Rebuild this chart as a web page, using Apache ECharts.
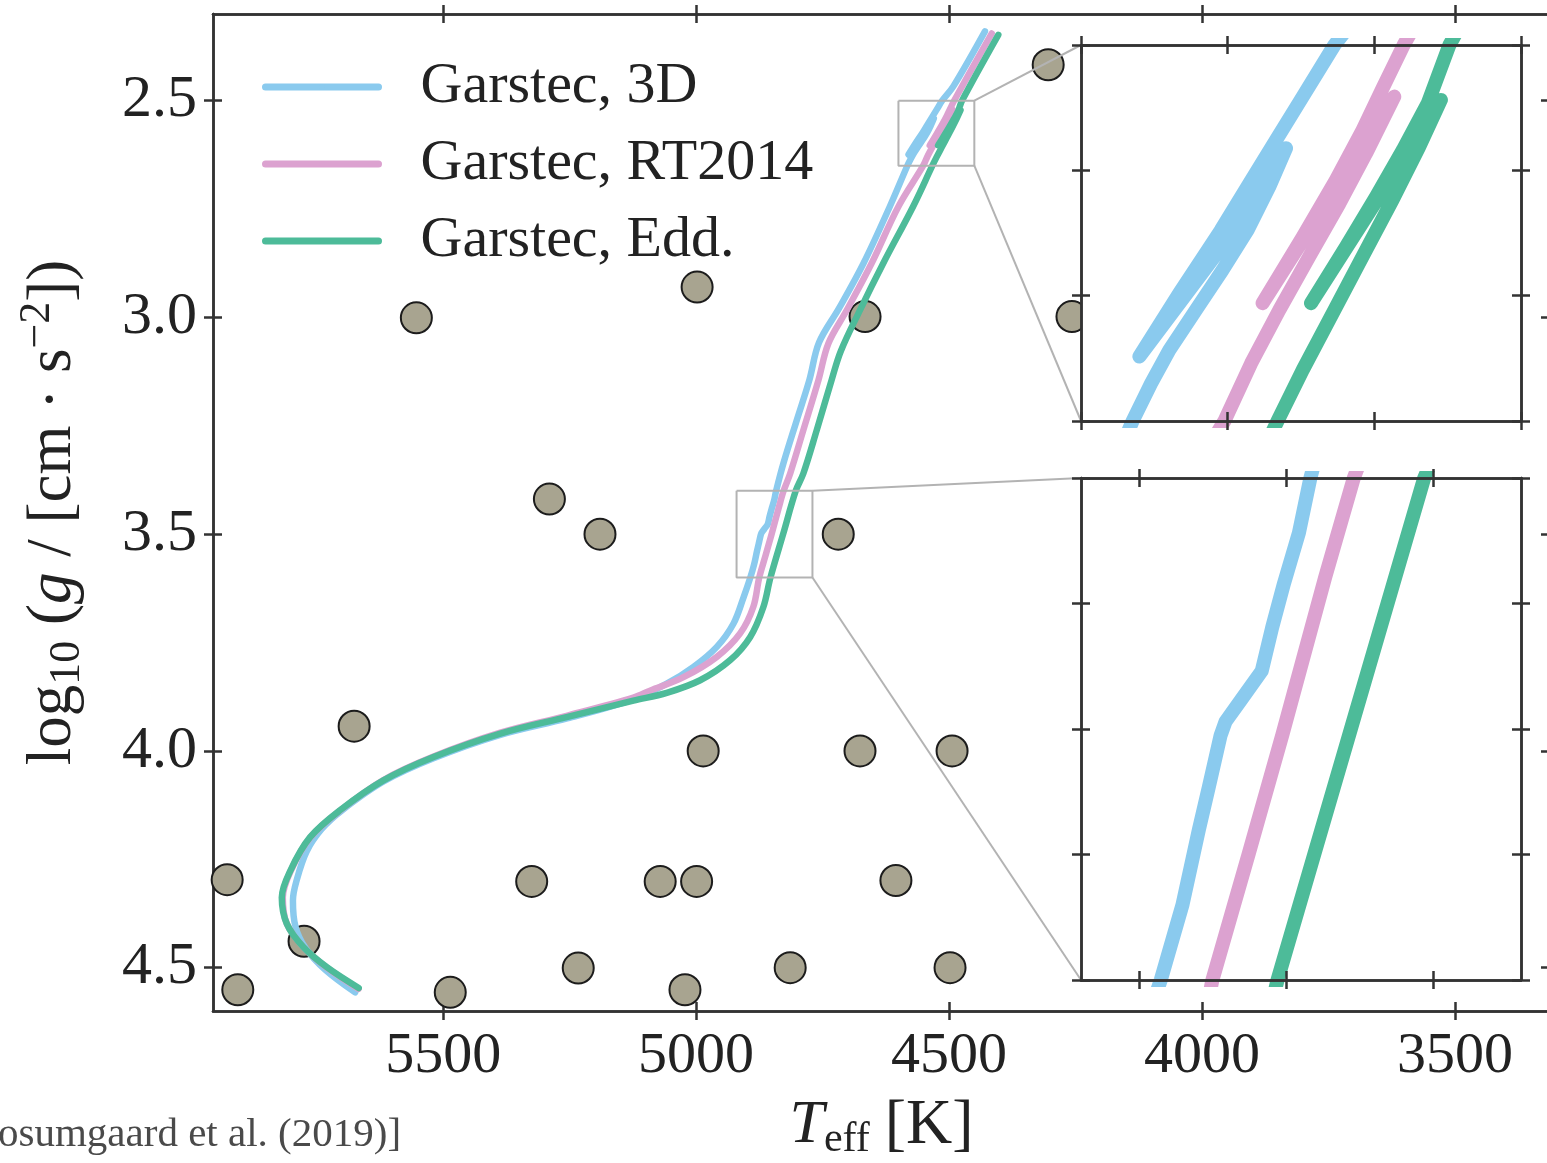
<!DOCTYPE html>
<html><head><meta charset="utf-8">
<script src="https://cdn.jsdelivr.net/npm/echarts@6/dist/echarts.min.js"></script>
<style>html,body{margin:0;padding:0;background:#fff}#c{width:1547px;height:1163px}</style>
</head><body><div id="c"></div>
<script>
// ---------- data ----------
const seriesNames = ['Garstec, 3D', 'Garstec, RT2014', 'Garstec, Edd.'];
const seriesColors = ['#8ACAEE', '#DCA2D0', '#4DBB99'];

const track3D = [
 [5674,4.557],[5733,4.505],[5772,4.455],[5792,4.405],[5797,4.345],[5790,4.300],[5770,4.232],
 [5740,4.180],[5700,4.137],[5617,4.070],[5519,4.017],[5387,3.963],[5255,3.925],[5124,3.881],
 [5058,3.845],[5005,3.806],[4959,3.760],[4926,3.706],[4906,3.645],
 [4892.8,3.600],[4885.4,3.570],[4879.8,3.540],[4876.4,3.523],[4872.4,3.5025],[4870.7,3.497],
 [4865.0,3.4877],[4858.4,3.4769],[4854.8,3.4594],[4850.8,3.442],[4845.7,3.4218],[4841.8,3.400],
 [4827.5,3.337],[4801,3.237],[4776,3.144],[4757,3.058],[4717,2.978],[4669,2.875],[4617,2.744],
 [4582.4,2.650],[4576.1,2.635],[4569.9,2.6217],[4560.8,2.6057],[4551.7,2.5897],[4543.2,2.5738],
 [4535.8,2.5565],[4530.1,2.5412],[4547.7,2.5738],[4580.1,2.6243],[4566.5,2.599],[4552.3,2.5738],
 [4542.6,2.5552],[4533.5,2.5379],[4524.4,2.5206],[4513.6,2.500],[4491.5,2.467],[4429,2.340]
];
const trackRT2014 = [
 [5667,4.549],[5730,4.500],[5776,4.453],[5809,4.399],[5817,4.338],[5801,4.276],[5762,4.199],
 [5703,4.137],[5618,4.067],[5519,4.013],[5387,3.958],[5256,3.919],[5124,3.877],[5091,3.861],
 [5025,3.830],[4959,3.783],[4913,3.729],[4887,3.668],
 [4875.2,3.600],[4862.8,3.5496],[4851.4,3.5025],[4836.7,3.4393],[4827.0,3.400],
 [4814,3.360],[4788,3.260],[4758,3.144],[4738.5,3.060],[4702,2.983],[4653,2.875],[4600,2.744],
 [4551.1,2.650],[4542.0,2.627],[4532.4,2.6057],[4522.2,2.5844],[4511.9,2.5632],[4502.8,2.5432],
 [4493.2,2.5206],[4538.1,2.603],[4524.4,2.5765],[4513.1,2.5539],[4504.0,2.5339],[4497.2,2.5173],
 [4490.0,2.500],[4415.7,2.345]
];
const trackEdd = [
 [5667,4.547],[5730,4.499],[5776,4.453],[5809,4.399],[5819,4.338],[5802,4.276],[5763,4.199],
 [5704,4.137],[5618,4.068],[5519,4.014],[5387,3.960],[5256,3.922],[5124,3.884],[5058,3.866],
 [4992,3.837],[4933,3.791],[4893,3.737],[4867,3.668],
 [4853,3.600],[4828,3.500],[4803,3.400],
 [4788,3.360],[4761.5,3.260],[4732,3.144],[4714,3.078],[4676,2.983],[4630,2.875],[4571,2.744],
 [4533.0,2.650],[4524.4,2.6296],[4514.2,2.607],[4504.0,2.5844],[4493.8,2.5618],[4484.7,2.5406],
 [4477.3,2.5219],[4521.6,2.603],[4509.6,2.5804],[4499.4,2.5605],[4490.3,2.5419],[4481.8,2.5233],
 [4474.4,2.500],[4402.6,2.348]
];

const starTeff = [4304,5553,4998,4666,4257,5290,5190,4719,5676,4986,4676,4494,
                  5927,5325,5071,4999,4605,5775,5906,5486,5233,5022,4814,4498];
const starLogg = [2.417,3.001,2.930,2.998,2.998,3.419,3.500,3.500,3.943,4.000,4.000,4.000,
                  4.297,4.301,4.301,4.301,4.299,4.439,4.551,4.557,4.501,4.551,4.500,4.500];

const mainXRange = [3312, 5955];
const mainYRange = [2.3, 4.6];
const mainXTicks = [3500, 4000, 4500, 5000, 5500];
const mainYTicks = [2.5, 3.0, 3.5, 4.0, 4.5];

const inset1XRange = [4450, 4600];
const inset1YRange = [2.5, 2.65];
const inset1XTicks = [4450, 4500, 4550, 4600];
const inset1YTicks = [2.5, 2.55, 2.6, 2.65];

const inset2XRange = [4770, 4920];
const inset2YRange = [3.4, 3.6];
const inset2XTicks = [4800, 4850, 4900];
const inset2YTicks = [3.4, 3.45, 3.5, 3.55, 3.6];

const sourceNote = 'osumgaard et al. (2019)]';

// ---------- chart ----------
const FONT = 'Liberation Serif';
const TXT = '#222';
const AX = '#333';
const chart = echarts.init(document.getElementById('c'), null, {renderer: 'canvas'});

function axisSet(dim, g, range, ticks, zz, labelOpt, nameOpt) {
  const pos = dim === 'x' ? ['bottom', 'top'] : ['left', 'right'];
  const out = [];
  pos.forEach((p, pi) => {
    [false, true].forEach(inside => {
      const a = {
        type: 'value', gridIndex: g, position: p, min: range[0], max: range[1], inverse: true, z: zz,
        axisLine: {show: true, onZero: false, lineStyle: {color: AX, width: 2.5}},
        axisTick: {show: true, inside: inside, length: 9, customValues: ticks, lineStyle: {color: AX, width: 2.5}},
        axisLabel: {show: false},
        splitLine: {show: false},
        axisPointer: {show: false}
      };
      if (pi === 0 && !inside && labelOpt) {
        a.axisLabel = Object.assign({show: true, customValues: ticks}, labelOpt);
        Object.assign(a, nameOpt || {});
      }
      out.push(a);
    });
  });
  return out;
}

const xLabel = {fontFamily: FONT, fontSize: 58, color: TXT, margin: 17, formatter: v => String(Math.round(v))};
const yLabel = {fontFamily: FONT, fontSize: 60, color: TXT, margin: 16, formatter: v => Number(v).toFixed(1)};
const base = {fontFamily: FONT, color: TXT};
const xName = {
  name: '{i|T}{sub|eff} {n|[K]}', nameLocation: 'middle', nameGap: 80,
  nameTextStyle: {fontFamily: FONT, fontSize: 60, color: TXT, rich: {
    i: Object.assign({fontSize: 62, fontStyle: 'italic'}, base),
    sub: Object.assign({fontSize: 42, padding: [28, 0, 0, 0]}, base),
    n: Object.assign({fontSize: 64}, base)
  }}
};
const yName = {
  name: '{n|log}{sub|10}{n| (}{i|g}{n| / [cm · s}{sup|−2}{n|])}', nameLocation: 'middle', nameGap: 122, nameRotate: 90,
  nameTextStyle: {fontFamily: FONT, fontSize: 63, color: TXT, rich: {
    n: Object.assign({fontSize: 63}, base),
    i: Object.assign({fontSize: 63, fontStyle: 'italic'}, base),
    sub: Object.assign({fontSize: 44, padding: [28, 0, 0, 0]}, base),
    sup: Object.assign({fontSize: 44, padding: [0, 0, 32, 0]}, base)
  }}
};

const xAxes = [].concat(
  axisSet('x', 0, mainXRange, mainXTicks, 0, xLabel, xName),
  axisSet('x', 1, inset1XRange, inset1XTicks, 6),
  axisSet('x', 2, inset2XRange, inset2XTicks, 6)
);
const yAxes = [].concat(
  axisSet('y', 0, mainYRange, mainYTicks, 0, yLabel, yName),
  axisSet('y', 1, inset1YRange, inset1YTicks, 6),
  axisSet('y', 2, inset2YRange, inset2YTicks, 6)
);

const tracks = [track3D, trackRT2014, trackEdd];
const series = [];
series.push({
  type: 'scatter', xAxisIndex: 0, yAxisIndex: 0, z: 1, silent: true,
  data: starTeff.map((t, i) => [t, starLogg[i]]),
  symbolSize: 31,
  itemStyle: {color: '#A8A490', borderColor: '#1c1c1c', borderWidth: 2, opacity: 1}
});
const gridAxis = [{idx: 0, w: 6.5, z: 2, smooth: 0.35}, {idx: 4, w: 14, z: 5, smooth: false}, {idx: 8, w: 14, z: 5, smooth: false}];
gridAxis.forEach(ga => {
  tracks.forEach((tr, k) => {
    series.push({
      type: 'line', name: seriesNames[k], xAxisIndex: ga.idx, yAxisIndex: ga.idx, z: ga.z, silent: true,
      data: tr, symbol: 'none', showSymbol: false, smooth: ga.smooth, clip: true,
      lineStyle: {color: seriesColors[k], width: ga.w, cap: 'round', join: 'round'},
      itemStyle: {color: seriesColors[k]}
    });
  });
});
function rectData(xr, yr) {
  return [[xr[1], yr[0]], [xr[0], yr[0]], [xr[0], yr[1]], [xr[1], yr[1]], [xr[1], yr[0]]];
}
[[inset1XRange, inset1YRange], [inset2XRange, inset2YRange]].forEach(r => {
  series.push({
    type: 'line', name: 'zoom', xAxisIndex: 0, yAxisIndex: 0, z: 3, silent: true,
    data: rectData(r[0], r[1]), symbol: 'none', showSymbol: false,
    lineStyle: {color: '#B3B3B3', width: 2}
  });
});

chart.setOption({
  animation: false,
  backgroundColor: '#fff',
  grid: [
    {left: 213, top: 14, width: 1337, height: 997, outerBoundsMode: 'none'},
    {left: 1081, top: 45, width: 440, height: 376, outerBoundsMode: 'none'},
    {left: 1081, top: 478, width: 440, height: 502, outerBoundsMode: 'none'}
  ],
  xAxis: xAxes,
  yAxis: yAxes,
  legend: {
    data: seriesNames, orient: 'vertical', left: 262, top: 57, padding: 0,
    itemWidth: 113, itemHeight: 7, itemGap: 17, selectedMode: false,
    lineStyle: {width: 7, cap: 'round'},
    textStyle: {fontFamily: FONT, fontSize: 58, color: TXT, lineHeight: 60, padding: [0, 0, 0, 37]}
  },
  series: series
});

const P = (i, pt) => chart.convertToPixel({xAxisIndex: i, yAxisIndex: i}, pt);
const graphics = [];
[{i: 4, xr: inset1XRange, yr: inset1YRange}, {i: 8, xr: inset2XRange, yr: inset2YRange}].forEach(s => {
  const tl = P(s.i, [s.xr[1], s.yr[0]]);
  const br = P(s.i, [s.xr[0], s.yr[1]]);
  graphics.push({type: 'rect', silent: true, z: 4,
    shape: {x: tl[0], y: tl[1], width: br[0] - tl[0], height: br[1] - tl[1]}, style: {fill: '#fff'}});
  const rtr = P(0, [s.xr[0], s.yr[0]]);
  const rbr = P(0, [s.xr[0], s.yr[1]]);
  graphics.push({type: 'line', silent: true, z: 3,
    shape: {x1: rtr[0], y1: rtr[1], x2: tl[0], y2: tl[1]}, style: {stroke: '#B3B3B3', lineWidth: 2}});
  graphics.push({type: 'line', silent: true, z: 3,
    shape: {x1: rbr[0], y1: rbr[1], x2: tl[0], y2: br[1]}, style: {stroke: '#B3B3B3', lineWidth: 2}});
});
graphics.push({type: 'text', left: -2, top: 1115, silent: true, z: 10,
  style: {text: sourceNote, font: '41px "Liberation Serif"', fill: '#4a4a4a'}});
chart.setOption({graphic: graphics});
</script>
</body></html>
